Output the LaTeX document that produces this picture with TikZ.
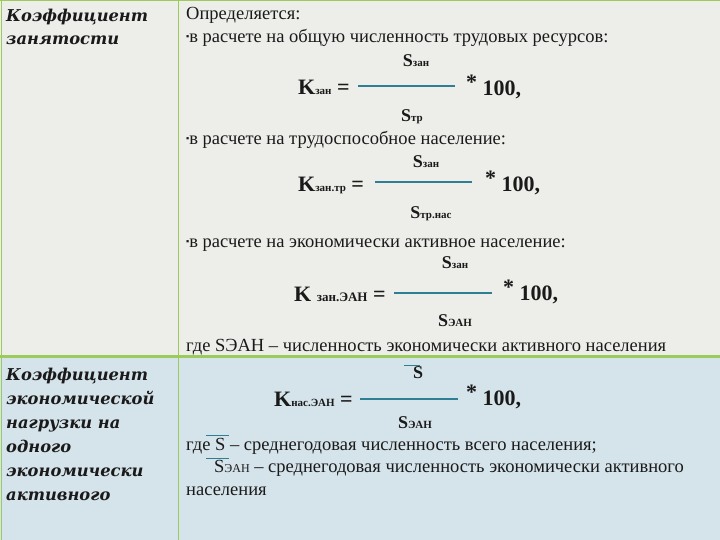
\documentclass[tikz,border=0pt]{standalone}
\usepackage{fontspec}
\setmainfont{Liberation Serif}
\newfontfamily\hd{DejaVu Serif}
\definecolor{topbg}{HTML}{EDEDEA}
\definecolor{botbg}{HTML}{D5E3EA}
\definecolor{grn}{HTML}{9BCB5A}
\definecolor{teal}{HTML}{2E7F93}
\definecolor{txt}{HTML}{1A1A1A}
\newcommand{\fs}[1]{\fontsize{#1}{#1}\selectfont}
\begin{document}
\begin{tikzpicture}[x=1pt,y=-1pt,
 every node/.style={text=txt,inner sep=0pt,text height=0.7em,text depth=0.2em},
 lt/.style={anchor=west,font=\fs{18.5}},
 hd/.style={anchor=west,font=\hd\bfseries\itshape\fs{16.3}},
 fm/.style={anchor=west,font=\bfseries\fs{22}},
 sm/.style={font=\bfseries\fs{18}},
 frac/.style={draw=teal,line width=2.5pt}]
\useasboundingbox (0,0) rectangle (720,540);
\fill[topbg] (0,0) rectangle (720,356);
\fill[botbg] (0,356) rectangle (720,540);
\draw[grn,line width=1pt] (1,0) -- (1,540);
\draw[grn,line width=1pt] (178,0) -- (178,540);
\draw[grn,line width=3pt] (0,356) -- (720,356);
\draw[grn,line width=1pt] (0,1) -- (720,1);
\begin{scope}[yshift=-2pt]
% left column
\node[hd] (h1) at (6,17) {Коэффициент};
\node[hd] (h2) at (6,40) {занятости};
\node[hd] (b1) at (6,376) {Коэффициент};
\node[hd] (b2) at (6,400) {экономической};
\node[hd] (b3) at (6,424) {нагрузки на};
\node[hd] (b4) at (6,448) {одного};
\node[hd] (b5) at (6,472) {экономически};
\node[hd] (b6) at (6,496) {активного};
% right column top
\node[lt] (t0) at (186,15) {Определяется:};
\node[lt] (t1) at (186,38) {{\fs{9}\raisebox{3pt}{▪}}в расчете на общую численность трудовых ресурсов:};
\node[sm] (n1) at (416,62) {S{\fs{11}зан}};
\node[fm] (k1) at (298,90) {K{\fs{11}зан} =};
\node[fm] (p1) at (466,91) {\raisebox{6pt}{*} 100,};
\node[sm] (d1) at (412,117) {S{\fs{11}тр}};
\node[lt] (t2) at (186,140) {{\fs{9}\raisebox{3pt}{▪}}в расчете на трудоспособное население:};
\node[sm] (n2) at (426,163) {S{\fs{11}зан}};
\node[fm] (k2) at (298,187) {K{\fs{11}зан.тр} =};
\node[fm] (p2) at (485,187) {\raisebox{6pt}{*} 100,};
\node[sm] (d2) at (431,214) {S{\fs{11}тр.нас}};
\node[lt] (t3) at (186,243) {{\fs{9}\raisebox{3pt}{▪}}в расчете на экономически активное население:};
\node[sm] (n3) at (455,264) {S{\fs{11}зан}};
\node[fm] (k3) at (294,297) {K {\fs{13}зан.ЭАН} =};
\node[fm] (p3) at (503,296) {\raisebox{6pt}{*} 100,};
\node[sm] (d3) at (455,322) {S{\fs{11}ЭАН}};
\node[lt] (t4) at (186,347) {где SЭАН – численность экономически активного населения};
% bottom
\node[sm] (n4) at (418,374) {S};
\node[fm] (k4) at (274,402) {K{\fs{11}нас.ЭАН} =};
\node[fm] (p4) at (466,401) {\raisebox{6pt}{*} 100,};
\node[sm] (d4) at (415,424) {S{\fs{11}ЭАН}};
\node[lt] (t5) at (186,446) {где S – среднегодовая численность всего населения;};
\node[lt] (t6) at (214,468) {S{\fs{12}ЭАН} – среднегодовая численность экономически активного};
\node[lt] (t7) at (186,491) {населения};
\end{scope}
\draw[frac] (358,86) -- (455,86);
\draw[frac] (375,182) -- (472,182);
\draw[frac] (394,293) -- (492,293);
\draw[frac] (360,399) -- (458,399);
\draw[teal,line width=0.6pt] (404,365) -- (420,365);
\draw[teal,line width=0.6pt] (206,435) -- (229,435);
\draw[teal,line width=0.6pt] (206,458) -- (229,458);
\end{tikzpicture}
\end{document}
